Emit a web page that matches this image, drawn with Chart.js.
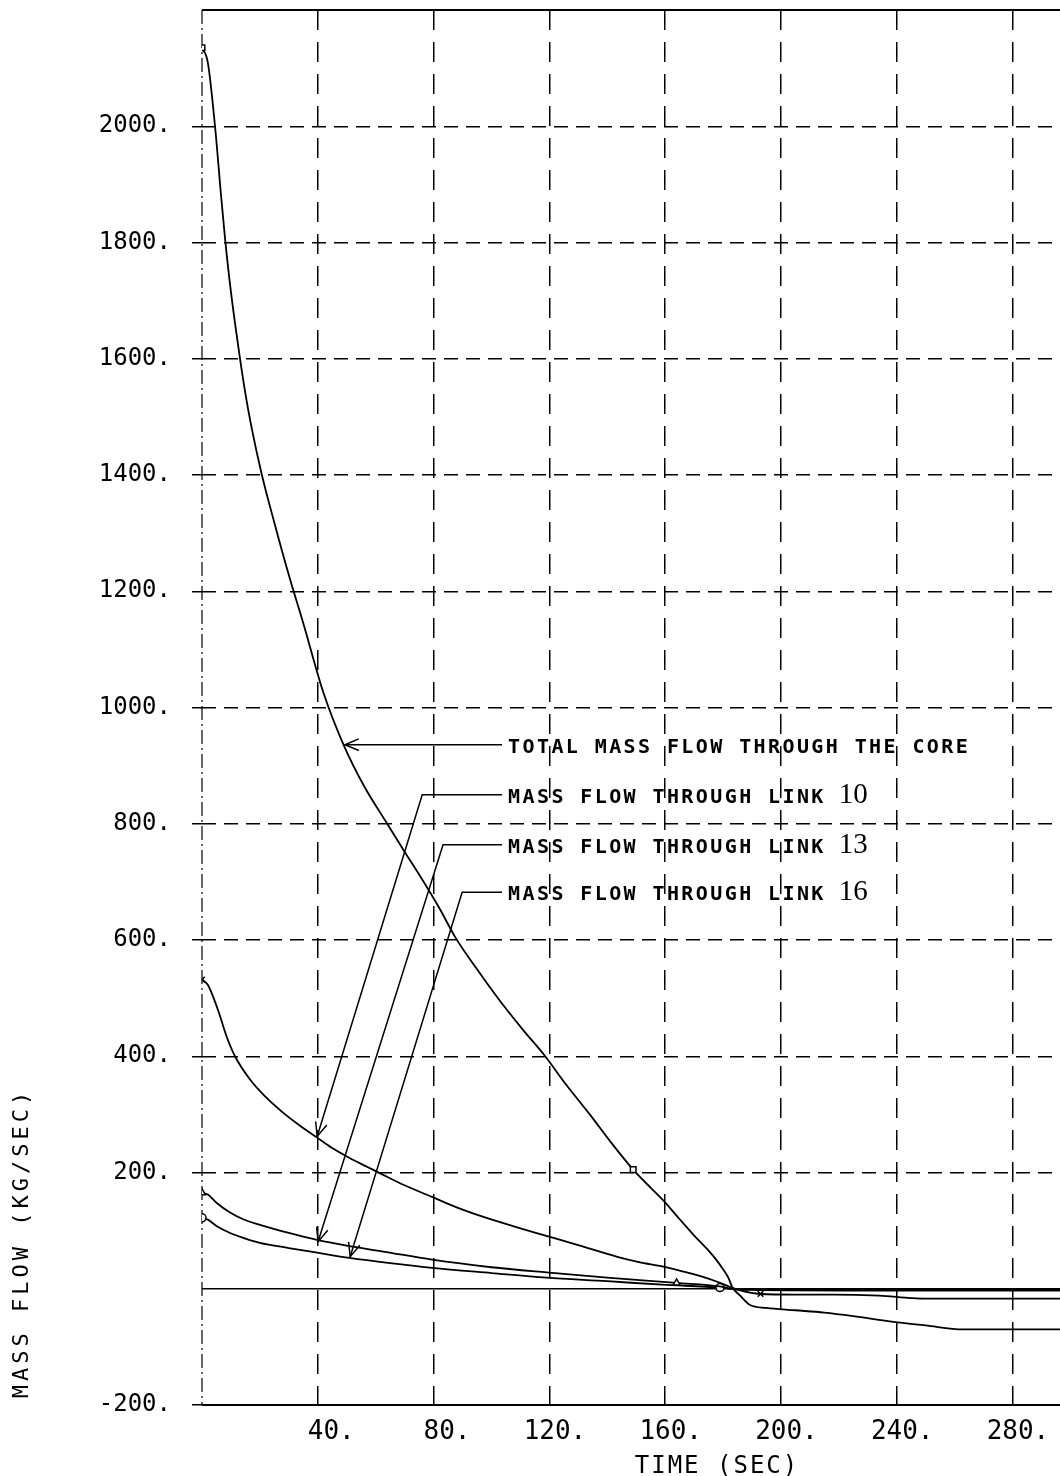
<!DOCTYPE html>
<html>
<head>
<meta charset="utf-8">
<script src="https://cdn.jsdelivr.net/npm/chart.js@4.4.1/dist/chart.umd.min.js"></script>
<style>
  html, body { margin: 0; padding: 0; background: #fff; overflow: hidden; }
  #wrap { position: absolute; left: 0; top: 0; width: 1140px; height: 1476px; }
</style>
</head>
<body>
<div id="wrap"><canvas id="flow" width="1140" height="1476"></canvas></div>
<script>
// Mass flow vs time
const totalT = [0, 2, 4.5, 6.6, 8, 10, 13, 15, 17, 20.7, 25, 30, 35, 42, 49, 56, 64, 70, 76, 82, 87.5, 95, 103, 111, 118.6, 126, 134, 141, 149, 155, 159.4, 165, 170, 174.6, 178, 180, 182, 183.2, 186, 189.4, 195, 205, 215, 225, 239, 250, 263, 280, 300, 320];
const totalV = [2135, 2110, 2000, 1880, 1805, 1715, 1605, 1540, 1485, 1400, 1318, 1228, 1145, 1025, 935, 865, 800, 752, 705, 655, 605, 550, 495, 445, 400, 350, 300, 254, 205, 174, 152, 120, 92, 68, 48, 34, 18, 3, -12, -28, -33, -37, -41, -47, -57, -63, -70, -70, -70, -70];
const totalMarks = [0, 28];

const link10T = [0, 2, 5.5, 8.5, 11.4, 16.6, 22, 28, 34, 39.8, 45, 51, 57, 62.6, 70, 79.5, 88, 97, 108, 119, 130, 143.5, 151, 159.4, 166, 172, 178, 182.5, 186, 193, 205, 218, 234, 245, 250, 280, 320];
const link10V = [532, 523, 480, 434, 400, 360, 330, 303, 280, 260, 242, 225, 210, 196, 178, 158, 140, 124, 107, 91, 75, 55, 46, 38, 30, 22, 12, 3, -3, -9, -10, -10, -12, -16, -17, -17, -17];
const link10Marks = [0, 29];

const link13T = [0, 2, 5, 9.7, 14, 20, 30, 39.8, 50, 62.6, 79.5, 100, 119, 140, 164, 179, 183, 190, 220, 260, 320];
const link13V = [165, 162, 148, 131, 120, 110, 96, 84, 74, 64, 50, 37, 28, 19, 10, 4, 0, -2, -3, -3, -3];
const link13Marks = [0, 14];

const link16T = [0, 2, 5, 9.7, 14, 20, 30, 39.8, 51, 65, 79.5, 100, 119, 140, 159, 179, 183, 190, 220, 260, 320];
const link16V = [122, 119, 108, 96, 88, 79, 70, 62, 53, 44, 36, 27, 19, 13, 7, 2, 0, -1, -2, -2, -2];
const link16Marks = [0, 15];

// leader lines: [time, flow] vertices, last one is the arrow tip
const callouts = [
  { text: 'TOTAL MASS FLOW THROUGH THE CORE', num: '', path: [[103.7, 936], [49.4, 936]] },
  { text: 'MASS FLOW THROUGH LINK', num: '10', path: [[103.7, 850], [76.1, 850], [39.8, 262]] },
  { text: 'MASS FLOW THROUGH LINK', num: '13', path: [[103.7, 764], [83.3, 764], [40.1, 81]] },
  { text: 'MASS FLOW THROUGH LINK', num: '16', path: [[103.7, 682], [89.9, 682], [51.2, 55]] }
];

const CLEAR = 'rgba(0,0,0,0)';
const MONO = '"DejaVu Sans Mono", monospace';

function series(ts, vs, marks, style) {
  return {
    data: ts.map((t, i) => ({ x: t, y: vs[i] })),
    borderColor: '#000',
    borderWidth: 1.8,
    cubicInterpolationMode: 'monotone',
    pointStyle: style,
    pointRadius: c => marks.includes(c.dataIndex) ? 4 : 0,
    pointBorderColor: '#000',
    pointBackgroundColor: '#fff',
    pointBorderWidth: 1.5,
    fill: false
  };
}

function seg(ctx, x1, y1, x2, y2) {
  ctx.beginPath();
  ctx.moveTo(x1, y1);
  ctx.lineTo(x2, y2);
  ctx.stroke();
}

const frame = {
  id: 'frame',
  beforeDatasetsDraw(chart) {
    const { ctx, chartArea: a, scales: { y } } = chart;
    ctx.save();
    ctx.strokeStyle = '#000';
    ctx.lineWidth = 2;
    seg(ctx, a.left, a.top, a.right, a.top);
    seg(ctx, a.left, a.bottom, a.right, a.bottom);
    ctx.lineWidth = 1.6;
    const y0 = y.getPixelForValue(0);
    seg(ctx, a.left, y0, a.right, y0);
    // left axis is a thin dash-dot line
    ctx.lineWidth = 1.2;
    ctx.setLineDash([14, 4, 2, 4]);
    seg(ctx, a.left, a.top, a.left, a.bottom);
    ctx.restore();
  },
  afterDatasetsDraw(chart) {
    const { ctx, scales: { x, y } } = chart;
    ctx.save();
    ctx.strokeStyle = '#000';
    ctx.fillStyle = '#000';
    ctx.lineWidth = 1.5;
    callouts.forEach(c => {
      const pts = c.path.map(([t, v]) => [x.getPixelForValue(t), y.getPixelForValue(v)]);
      ctx.beginPath();
      pts.forEach(([px, py], i) => i ? ctx.lineTo(px, py) : ctx.moveTo(px, py));
      ctx.stroke();
      const [tx, ty] = pts[pts.length - 1];
      const [qx, qy] = pts[pts.length - 2];
      const ang = Math.atan2(qy - ty, qx - tx);
      ctx.beginPath();
      ctx.moveTo(tx + 15 * Math.cos(ang + 0.4), ty + 15 * Math.sin(ang + 0.4));
      ctx.lineTo(tx, ty);
      ctx.lineTo(tx + 15 * Math.cos(ang - 0.4), ty + 15 * Math.sin(ang - 0.4));
      ctx.stroke();

      const [sx, sy] = pts[0];
      ctx.font = 'bold 20px ' + MONO;
      ctx.letterSpacing = '2.4px';
      ctx.textAlign = 'left';
      ctx.textBaseline = 'alphabetic';
      ctx.fillText(c.text, sx + 6, sy + 8);
      if (c.num) {
        const w = ctx.measureText(c.text).width;
        ctx.letterSpacing = '0px';
        ctx.font = '29px "Liberation Serif", serif';
        ctx.fillText(c.num, sx + 6 + w + 13, sy + 8);
      }
    });
    ctx.restore();
  },
  afterDraw(chart) {
    const { ctx } = chart;
    ctx.save();
    ctx.fillStyle = '#000';
    ctx.textAlign = 'center';
    ctx.textBaseline = 'alphabetic';
    ctx.font = '24px ' + MONO;
    ctx.letterSpacing = '2px';
    ctx.fillText('TIME (SEC)', 717, 1473);
    ctx.translate(28, 1243);
    ctx.rotate(-Math.PI / 2);
    ctx.font = '22px ' + MONO;
    ctx.letterSpacing = '4px';
    ctx.fillText('MASS FLOW (KG/SEC)', 0, 0);
    ctx.restore();
  }
};

new Chart(document.getElementById('flow'), {
  type: 'line',
  data: {
    datasets: [
      series(totalT, totalV, totalMarks, 'rect'),
      series(link10T, link10V, link10Marks, 'crossRot'),
      series(link13T, link13V, link13Marks, 'triangle'),
      series(link16T, link16V, link16Marks, 'circle')
    ]
  },
  options: {
    responsive: false,
    animation: false,
    layout: { padding: { left: 0, right: 12, top: 10, bottom: 0 } },
    plugins: { legend: { display: false }, tooltip: { enabled: false } },
    scales: {
      x: {
        type: 'linear',
        min: 0,
        max: 320,
        afterFit: s => { s.height = 71; s.paddingLeft = 0; s.paddingRight = 0; },
        ticks: {
          stepSize: 40,
          autoSkip: false,
          maxRotation: 0,
          align: 'end',
          labelOffset: 37,
          padding: 12,
          color: '#000',
          font: { family: MONO, size: 26 },
          callback: v => v === 0 ? '' : v + '.'
        },
        grid: {
          drawTicks: false,
          lineWidth: 1.5,
          color: c => (c.tick && c.tick.value === 0) ? CLEAR : '#000'
        },
        border: { display: false, dash: [20, 12] }
      },
      y: {
        type: 'linear',
        min: -200,
        max: 2200,
        afterFit: s => { s.width = 202; s.paddingTop = 0; s.paddingBottom = 0; },
        ticks: {
          stepSize: 200,
          autoSkip: false,
          padding: 21,
          color: '#000',
          font: { family: MONO, size: 24 },
          callback: v => (v === 0 || v === 2200) ? '' : v + '.'
        },
        grid: {
          tickLength: 10,
          lineWidth: 1.5,
          color: c => (c.tick && (c.tick.value === 0 || c.tick.value === 2200)) ? CLEAR : '#000'
        },
        border: { display: false, dash: [14, 8] }
      }
    }
  },
  plugins: [frame]
});
</script>
</body>
</html>
